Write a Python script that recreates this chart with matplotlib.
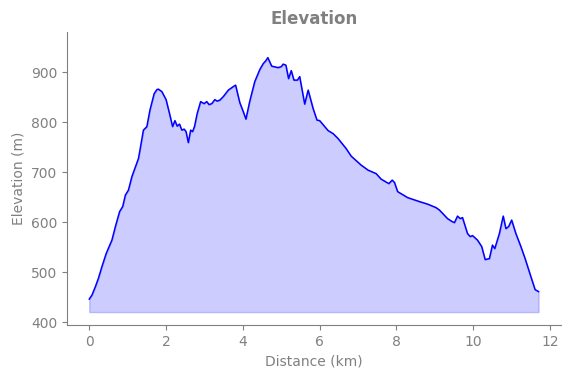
import numpy as np
import matplotlib.pyplot as plt

distance_km = [0.00, 0.07, 0.16, 0.24, 0.33, 0.44, 0.59, 0.68, 0.79, 0.87,
               0.94, 1.02, 1.11, 1.28, 1.32, 1.41, 1.50, 1.58, 1.69, 1.76,
               1.80, 1.89, 2.00, 2.09, 2.17, 2.23, 2.29, 2.35, 2.41, 2.47,
               2.52, 2.58, 2.64, 2.69, 2.74, 2.81, 2.90, 2.99, 3.06, 3.12,
               3.19, 3.27, 3.33, 3.40, 3.49, 3.62, 3.75, 3.81, 3.92, 4.01,
               4.08, 4.18, 4.31, 4.44, 4.53, 4.60, 4.65, 4.75, 4.92, 5.00,
               5.05, 5.12, 5.19, 5.26, 5.33, 5.42, 5.48, 5.61, 5.70, 5.83,
               5.93, 6.00, 6.22, 6.35, 6.48, 6.69, 6.82, 7.08, 7.26, 7.47,
               7.60, 7.80, 7.89, 7.95, 8.03, 8.29, 8.60, 8.81, 9.03, 9.12,
               9.33, 9.45, 9.51, 9.59, 9.66, 9.72, 9.85, 9.92, 9.98, 10.11,
               10.22, 10.31, 10.42, 10.50, 10.56, 10.68, 10.78, 10.85, 10.92, 11.00,
               11.11, 11.24, 11.35, 11.50, 11.61, 11.70]
elevation_m = [446, 454, 471, 488, 511, 537, 564, 591, 621, 631,
               654, 664, 691, 727, 744, 784, 791, 824, 857, 865,
               866, 861, 845, 817, 791, 803, 792, 796, 784, 786,
               781, 759, 784, 781, 791, 817, 841, 837, 841, 835,
               837, 845, 842, 844, 851, 864, 871, 874, 839, 821,
               806, 842, 881, 905, 917, 923, 929, 912, 909, 911,
               916, 914, 887, 903, 884, 884, 891, 836, 864, 827,
               804, 803, 783, 777, 767, 747, 732, 714, 704, 697,
               686, 677, 684, 679, 661, 649, 641, 636, 629, 624,
               607, 601, 599, 612, 607, 609, 577, 571, 573, 564,
               551, 525, 527, 554, 547, 577, 612, 587, 591, 604,
               577, 551, 527, 491, 465, 461]
base_elevation = 420

gray = "#808080"
fig = plt.figure(figsize=(5.71, 3.78), dpi=100)
ax = fig.add_axes([0.117, 0.14, 0.8655, 0.775])

x = np.array(distance_km)
y = np.array(elevation_m)
ax.fill_between(x, y, base_elevation, color="blue", alpha=0.2)
ax.plot(x, y, color="blue", linewidth=1.1)

ax.set_xlim(-0.585, 12.285)
ax.set_ylim(394, 980)
ax.set_xticks([0, 2, 4, 6, 8, 10, 12])
ax.set_yticks([400, 500, 600, 700, 800, 900])

ax.set_title("Elevation", color=gray, fontsize=12, fontweight="bold")
ax.set_xlabel("Distance (km)", color=gray)
ax.set_ylabel("Elevation (m)", color=gray)
ax.tick_params(colors=gray)
for side in ["top", "right"]:
    ax.spines[side].set_visible(False)
for side in ["left", "bottom"]:
    ax.spines[side].set_color(gray)

fig.savefig("out.png", dpi=100)
